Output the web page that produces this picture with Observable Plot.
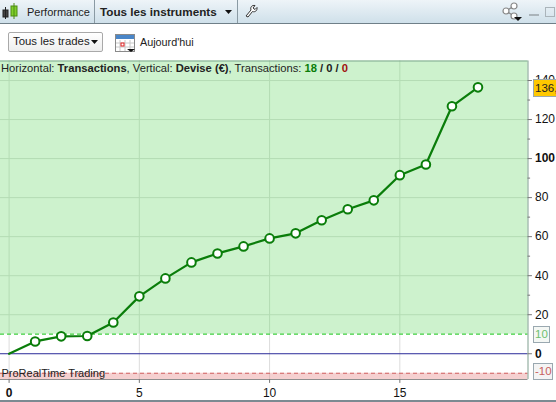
<!DOCTYPE html>
<html><head><meta charset="utf-8">
<script src="https://cdn.jsdelivr.net/npm/d3@7"></script>
<script src="https://cdn.jsdelivr.net/npm/@observablehq/plot@0.6"></script>
<style>
html,body{margin:0;padding:0;background:#fff;width:556px;height:402px;overflow:hidden;font-family:"Liberation Sans",Arial,sans-serif;}
#head{position:absolute;left:0;top:0;width:556px;height:60px;background:#fff;}
#bar{position:absolute;left:0;top:0;width:556px;height:23px;background:linear-gradient(#eef4f8,#cfe0ea);border-bottom:1px solid #6f7f88;}
.t{position:absolute;white-space:nowrap;color:#222;font-size:11px;}
.sep{position:absolute;top:0;width:1px;height:23px;background:#8a9aa3;}
#btn{position:absolute;left:8px;top:32px;width:93px;height:18px;border:1px solid #a9a9a9;border-radius:2px;background:linear-gradient(#fff,#eee);}
svg.ico{position:absolute;overflow:visible;}
#chart{position:absolute;left:0;top:60px;}
#chart svg{display:block;}
</style></head><body>
<div id="head">
  <div id="bar"></div>
  <svg class="ico" style="left:2px;top:3px" width="16" height="17"><rect x="1" y="7" width="5" height="7" fill="#444" stroke="#222"/><line x1="3.5" y1="4" x2="3.5" y2="16" stroke="#222"/><rect x="9" y="3" width="6" height="10" fill="#7fd02a" stroke="#4c8a12"/><line x1="12" y1="0" x2="12" y2="16" stroke="#4c8a12"/></svg>
  <div class="t" style="left:27px;top:6px;font-size:11px">Performance</div>
  <div class="sep" style="left:94px"></div>
  <div class="t" style="left:100px;top:5px;font-size:11.700px;font-weight:bold">Tous les instruments</div>
  <svg class="ico" style="left:225px;top:10px" width="8" height="5"><path d="M0 0H7L3.5 4Z" fill="#111"/></svg>
  <div class="sep" style="left:237px"></div>
  <svg class="ico" style="left:244px;top:4px" width="14" height="14"><path d="M2 12L7 6C6 3 8 1 11 1.500L9 4L11 5.500L13 3.500C13.500 6.500 11 8.500 8.500 7.500L4 13Z" fill="#fff" stroke="#333"/></svg>
  <svg class="ico" style="left:501px;top:2px" width="22" height="18"><g fill="#fff" stroke="#888" stroke-width="1.200"><path d="M13 4L5 9L13 14" fill="none"/><circle cx="13" cy="4" r="3"/><circle cx="5" cy="9" r="3"/><circle cx="13" cy="14" r="3"/></g><path d="M13 15H21L17 19Z" fill="#111"/></svg>
  <div style="position:absolute;left:529px;top:14px;width:10px;height:2px;background:#aab4ba"></div>
  <div style="position:absolute;left:545px;top:7px;width:8px;height:8px;border:1px solid #aab4ba"></div>
  <div id="btn"></div>
  <div class="t" style="left:13px;top:35px;font-size:11.400px">Tous les trades</div>
  <svg class="ico" style="left:91px;top:40px" width="7" height="4"><path d="M0 0H7L3.500 4Z" fill="#111"/></svg>
  <svg class="ico" style="left:115px;top:32px" width="21" height="21"><rect x=".5" y="2.500" width="19" height="17" fill="#fff" stroke="#8a8a8a"/><rect x="1" y="3" width="18" height="4" fill="#4a86c8"/><path d="M5 8V19M10 8V19M15 8V19M1 11H19M1 15H19" stroke="#c8c8c8"/><rect x="6" y="11" width="3" height="3" fill="#fff" stroke="#e02020"/><path d="M12 17H20L16 20Z" fill="#111"/></svg>
  <div class="t" style="left:140px;top:36px;font-size:10.800px">Aujourd'hui</div>
</div>
<div id="chart"></div>
<script>
const trades = [0,1,2,3,4,5,6,7,8,9,10,11,12,13,14,15,16,17,18];
const equity = [0,6.3,8.9,9.1,16,29.4,38.6,46.8,51.4,55,59.1,61.7,68.4,74,78.6,91.5,97,126.8,136.5];
const xTicks = [0,5,10,15];
const yGrid = [20,40,60,80,100,120,140];
const yLabels = [20,40,60,80,120,140];
const yBoldLabels = [100,0];
const yMinor = [30,50,70,90,110,130];
const upperBound = 10, lowerBound = -10;
const yMin = -13.2, yMax = 150;
const xMin = -0.33, xMax = 19.92;
const points = trades.map((t,i)=>({t,v:equity[i]}));

const plot = Plot.plot({
  width:556, height:342,
  marginLeft:0, marginRight:28.5, marginTop:0.5, marginBottom:23,
  style:{background:"transparent",fontFamily:"Liberation Sans, Arial, sans-serif",overflow:"visible"},
  x:{domain:[xMin,xMax],axis:null},
  y:{domain:[yMin,yMax],axis:null},
  marks:[
    Plot.rect([0],{x1:xMin,x2:xMax,y1:upperBound,y2:yMax,fill:"#cdf2cd"}),
    Plot.rect([0],{x1:xMin,x2:xMax,y1:yMin,y2:lowerBound,fill:"#f5d0d0"}),
    Plot.ruleX(xTicks,{y1:upperBound,y2:yMax,stroke:"#b4dcb4"}),
    Plot.ruleX(xTicks,{y1:lowerBound,y2:upperBound,stroke:"#dcdcdc"}),
    Plot.ruleX(xTicks,{y1:yMin,y2:lowerBound,stroke:"#dcbcbc"}),
    Plot.ruleY(yGrid,{x1:xMin,x2:xMax,stroke:"#b4dcb4"}),
    Plot.ruleY([upperBound],{x1:xMin,x2:xMax,stroke:"#3ed03e",strokeDasharray:"4,3",strokeWidth:1.2}),
    Plot.ruleY([lowerBound],{x1:xMin,x2:xMax,stroke:"#d06060",strokeDasharray:"4,3",strokeWidth:1.2}),
    Plot.ruleY([0],{x1:xMin,x2:xMax,stroke:"#2a2a9a"}),
    Plot.line(points,{x:"t",y:"v",stroke:"#0a7d0a",strokeWidth:2.2}),
    Plot.dot(points.slice(1),{x:"t",y:"v",r:4.300,fill:"#fff",stroke:"#0a7d0a",strokeWidth:2}),
    Plot.ruleX([xMax],{y1:yMin,y2:yMax,stroke:"#7f9f8f"}),
    Plot.ruleY([yMin],{x1:xMin,x2:xMax,stroke:"#8f8f8f"}),
    Plot.ruleY([yMax],{x1:xMin,x2:xMax,stroke:"#7fa88f"}),
    Plot.ruleY(yGrid.concat(yBoldLabels.slice(1)),{x1:xMax,x2:xMax+0.17,stroke:"#777"}),
    Plot.ruleY(yMinor,{x1:xMax,x2:xMax+0.1,stroke:"#777"}),
    Plot.text(yLabels,{x:xMax,y:d=>d,text:d=>String(d),dx:7,textAnchor:"start",fontSize:12,fill:"#111"}),
    Plot.text(yBoldLabels,{x:xMax,y:d=>d,text:d=>String(d),dx:7,textAnchor:"start",fontSize:12,fontWeight:"bold",fill:"#111"}),
    Plot.ruleX(xTicks,{y1:yMin,y2:yMin-2,stroke:"#777"}),
    Plot.text(xTicks.slice(1),{x:d=>d,y:yMin,text:d=>String(d),dy:14,fontSize:12,fill:"#111"}),
    Plot.text(xTicks.slice(0,1),{x:d=>d,y:yMin,text:d=>String(d),dy:14,fontSize:12,fontWeight:"bold",fill:"#111"}),
    Plot.text(["ProRealTime Trading"],{x:xMin,y:lowerBound,dy:0,dx:1,textAnchor:"start",fontSize:11,fill:"#222"})
  ]
});
document.getElementById("chart").appendChild(plot);

const info=document.createElement("div");
info.className="t";
info.style.cssText="left:1px;top:62px;font-size:11.200px;color:#222;z-index:2";
info.innerHTML='Horizontal: <b>Transactions</b>, Vertical: <b>Devise (€)</b>, Transactions: <b style="color:#0a7d0a">18</b> <b>/</b> <b>0</b> <b>/</b> <b style="color:#a01010">0</b>';
document.body.appendChild(info);
function tag(text,top,style){const e=document.createElement("div");e.textContent=text;e.style.cssText=`position:absolute;left:${style.left}px;top:${top}px;width:${style.w}px;height:${style.h}px;line-height:${style.h-2}px;font-size:11.500px;overflow:hidden;box-sizing:border-box;white-space:nowrap;padding-left:1px;border:1px solid ${style.b};background:${style.bg};color:${style.c}`;document.body.appendChild(e);}
tag("136,",79,{left:533,w:26,h:18,b:"#9aa8b0",bg:"#ffc800",c:"#222"});
tag("10",326,{left:533,w:17,h:17,b:"#9aa8b0",bg:"#f4f7f4",c:"#6fbf6f"});
tag("-10",363,{left:533,w:20,h:17,b:"#9aa8b0",bg:"#f4f4f4",c:"#c86060"});
const bot=document.createElement("div");bot.style.cssText="position:absolute;left:0;top:400px;width:556px;height:2px;background:#7c8a92";document.body.appendChild(bot);
</script>
</body></html>
